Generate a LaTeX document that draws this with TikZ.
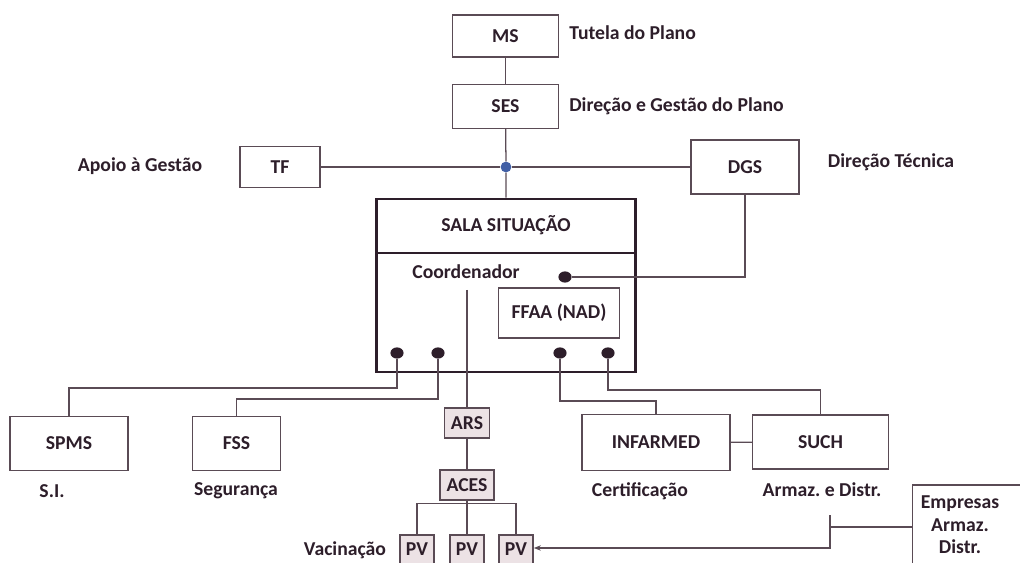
\documentclass[tikz,border=0pt]{standalone}
\usepackage{fontspec}
\setmainfont{Carlito}
\usetikzlibrary{calc,arrows.meta}
\definecolor{ink}{RGB}{45,30,42}
\definecolor{wirecol}{RGB}{90,75,85}
\definecolor{shade}{RGB}{236,226,229}
\definecolor{hubblue}{RGB}{65,95,165}
\frenchspacing
\tikzset{
  unit/.style={draw=wirecol, line width=0.8pt, fill=white, text=ink, font=\bfseries\fontsize{14}{16}\selectfont, inner sep=0pt},
  unitg/.style={unit, fill=shade, line width=1.1pt},
  tag/.style={text=ink, font=\bfseries\fontsize{14}{16}\selectfont, inner sep=0pt},
  link/.style={draw=wirecol, line width=0.9pt},
  knob/.style={ellipse, fill=ink, inner sep=0pt, minimum width=0.33cm, minimum height=0.28cm}
}
\usetikzlibrary{shapes.geometric}

\begin{document}
\begin{tikzpicture}[x=0.025cm, y=-0.025cm]
			%%%%% START %%%%%
			\useasboundingbox (0,0) rectangle (1020,563);
			
			\node[unit, minimum width=2.63cm, minimum height=1.05cm] (ms) at (505.5,36) {MS};
			\node[unit, minimum width=2.63cm, minimum height=1.08cm] (ses) at (505.5,106.5) {SES};
			\node[tag, anchor=west] (tutela) at (569,33) {Tutela do Plano};
			\node[tag, anchor=west] (direcao) at (569,106) {Direção e Gestão do Plano};
			
			\node[circle, fill=hubblue, inner sep=0pt, minimum size=0.27cm] (hub) at (506,167) {};
			\node[unit, minimum width=2cm, minimum height=1.03cm] (tf) at (280,167) {TF};
			\node[unit, minimum width=2.7cm, minimum height=1.35cm] (dgs) at (745,167) {DGS};
			\node[tag] (apoio) at (140,166) {Apoio à Gestão};
			\node[tag] (tecnica) at (891,162) {Direção Técnica};
			
			% sala de situacao
			\node[draw=ink, line width=1.9pt, minimum width=6.48cm, minimum height=4.33cm] (sala) at (506,285.5) {};
			\coordinate (split) at (0,253);
			\draw[draw=ink, line width=1pt] (sala.west |- split) -- (sala.east |- split);
			\node[tag] (salatitle) at (506,225) {SALA SITUAÇÃO};
			\node[tag] (coord) at (466,272) {Coordenador};
			\coordinate (coordtop) at (467,290);
			\node[unit, minimum width=3.03cm, minimum height=1.25cm] (ffaa) at (559,313) {FFAA (NAD)};
			
			\node[unit, minimum width=2.95cm, minimum height=1.33cm] (spms) at (69,443.5) {SPMS};
			\node[unit, minimum width=2.18cm, minimum height=1.33cm] (fss) at (236.5,443.5) {FSS};
			\node[unit, minimum width=3.7cm, minimum height=1.38cm] (infarmed) at (656,442.5) {INFARMED};
			\node[unit, minimum width=3.38cm, minimum height=1.35cm] (such) at (820.5,442) {SUCH};
			\node[tag] (si) at (52,491) {S.I.};
			\node[tag] (seg) at (236,491) {Segurança};
			\node[tag] (cert) at (640,491) {Certificação};
			\node[tag] (armaz) at (822,490) {Armaz. e Distr.};
			\coordinate (armtop) at (830,515);
			
			\node[unit, minimum width=2.93cm, minimum height=2.1cm] (emp) at (971.5,527) {};
			\node[tag, align=center] (emptext) at (960,525) {Empresas\\Armaz.\\Distr.};
			
			\node[unitg, minimum width=1.13cm, minimum height=0.75cm] (ars) at (467,423) {ARS};
			\node[unitg, minimum width=1.35cm, minimum height=0.75cm] (aces) at (467,485) {ACES};
			\node[unitg, minimum width=0.85cm, minimum height=1cm, text depth=0.3cm] (pv1) at (417,555) {PV};
			\node[unitg, minimum width=0.85cm, minimum height=1cm, text depth=0.3cm] (pv2) at (467,555) {PV};
			\node[unitg, minimum width=0.85cm, minimum height=1cm, text depth=0.3cm] (pv3) at (516,555) {PV};
			\node[tag] (vac) at (345,550) {Vacinação};
			
			\node[knob] (d1) at (397,353) {};
			\node[knob] (d2) at (438,353) {};
			\node[knob] (d3) at (560,353) {};
			\node[knob] (d4) at (608,353) {};
			\node[knob] (dd) at (565,277) {};
			
			% connectors
			\draw[link] (ms) -- (ses);
			\draw[link] (ses) -- (hub) -- (sala.north);
			\draw[link] (tf) -- (hub) -- (dgs);
			\draw[link] (dgs.south) |- (dd);
			
			\draw[link] (d1) -- ++(0,35) -| (spms.north);
			\draw[link] (d2) -- ++(0,46) -| (fss.north);
			\draw[link] (d3) -- ++(0,48) -| (infarmed.north);
			\draw[link] (d4) -- ++(0,37) -| (such.north);
			\draw[link] (infarmed) -- (such);
			
			\draw[link] (coordtop) -- (ars.north);
			\draw[link] (ars) -- (aces);
			\draw[link] (aces.south) -- ++(0,3) coordinate (fork);
			\draw[link] (fork) -| (pv1.north);
			\draw[link] (fork) -| (pv3.north);
			\draw[link] (fork) -- (pv2.north);
			
			\draw[link, -{Stealth[length=5pt]}] (armtop) -- ++(0,33) coordinate (armfoot) -- (armfoot -| pv3.east);
			\draw[link] (armtop |- emp.west) -- (emp.west);
			%%%%% END %%%%%
\end{tikzpicture}
\end{document}
